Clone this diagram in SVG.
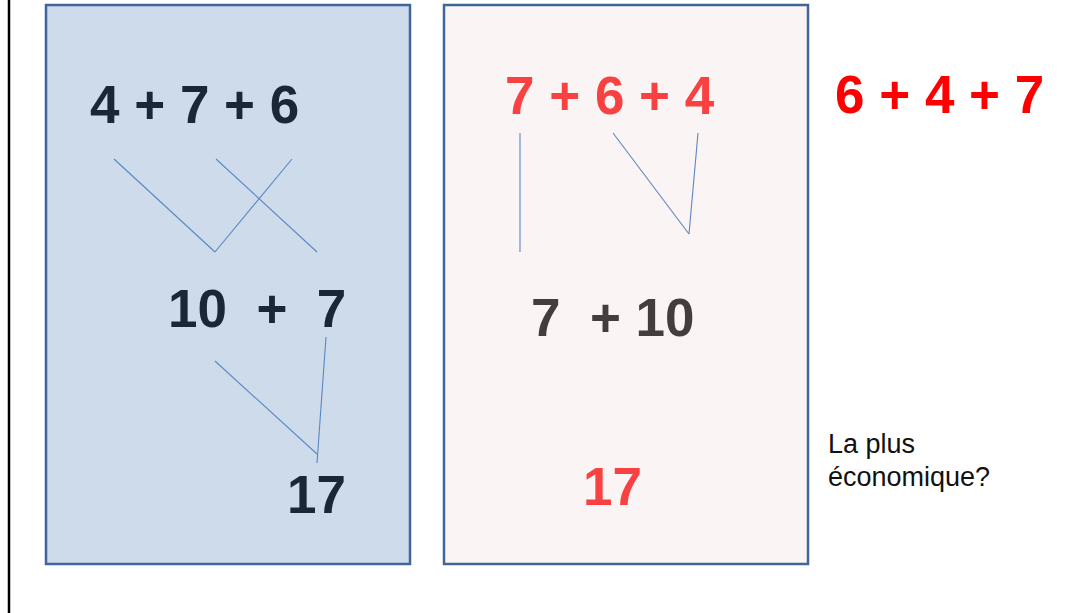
<svg xmlns="http://www.w3.org/2000/svg" width="1072" height="613" viewBox="0 0 1072 613">
<style>
.big{font-family:"Liberation Sans",Arial,sans-serif;font-weight:bold;font-size:53px;white-space:pre}
.navy{fill:#1b2638}
.red{fill:#f94141}
.gray{fill:#433d3d}
.pure{fill:#ff0000}
.note{font-family:"Liberation Sans",Arial,sans-serif;font-size:27px;fill:#111}
.box{stroke:#41659a;stroke-width:2.5}
.conn line{stroke:#5b86c4;stroke-width:1.1}
</style>
<rect width="1072" height="613" fill="#fff"/>
<line x1="9" y1="0" x2="9" y2="613" stroke="#000" stroke-width="2.5"/>
<g id="box-left">
<rect class="box" x="46" y="5" width="364" height="559" fill="#cddbeb"/>
<text class="big navy" x="90" y="123">4 + 7 + 6</text>
<text class="big navy" x="168" y="327" xml:space="preserve">10  +  7</text>
<text class="big navy" x="287" y="513">17</text>
</g>
<g id="box-right">
<rect class="box" x="444" y="5" width="364" height="559" fill="#faf4f4"/>
<text class="big red" x="505" y="114">7 + 6 + 4</text>
<text class="big gray" x="531" y="336" xml:space="preserve">7  + 10</text>
<text class="big red" x="583" y="505">17</text>
</g>
<g id="side">
<text class="big pure" x="835" y="113">6 + 4 + 7</text>
<text class="note" x="828" y="453">La plus</text>
<text class="note" x="828" y="486">économique?</text>
</g>
<g id="connectors" class="conn">
<line x1="114" y1="159" x2="215" y2="252"/>
<line x1="215" y1="252" x2="292" y2="159"/>
<line x1="216" y1="159" x2="317" y2="252"/>
<line x1="215" y1="361" x2="317" y2="454"/>
<line x1="326" y1="337" x2="317" y2="463"/>
<line x1="520" y1="133" x2="520" y2="252"/>
<line x1="613" y1="133" x2="689" y2="234"/>
<line x1="689" y1="234" x2="698" y2="133"/>
</g>
</svg>
